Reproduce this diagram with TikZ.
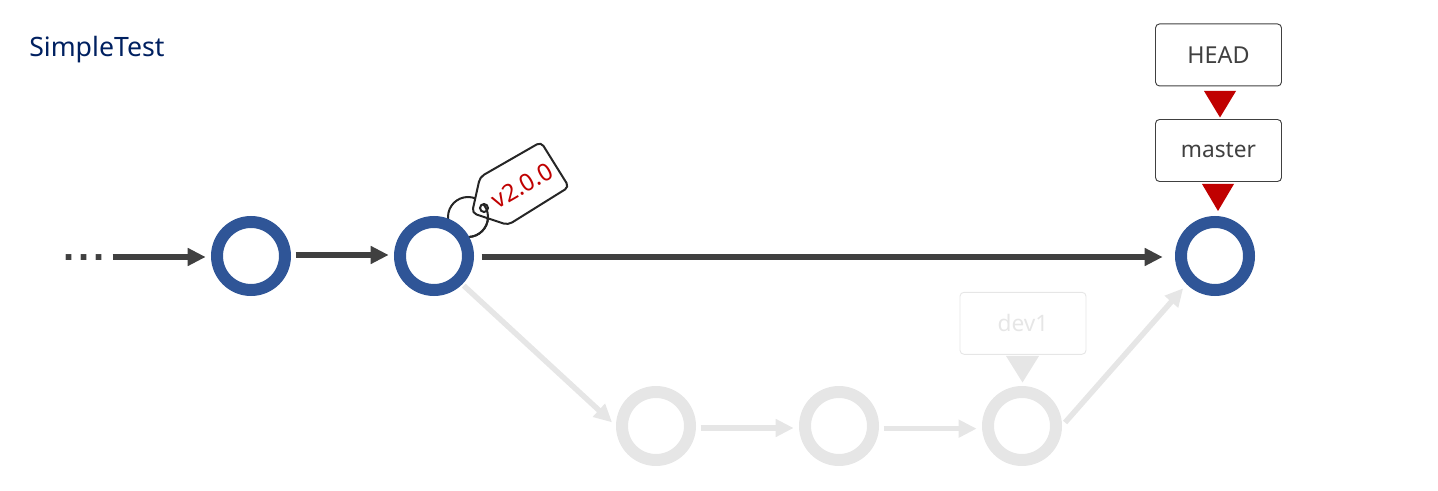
\documentclass[tikz,border=0pt]{standalone}
\usepackage{fontspec}
\setmainfont{Noto Sans}
\newfontfamily\dotsfont[LetterSpace=9]{Liberation Sans}
\usepackage{xcolor}
\usetikzlibrary{arrows.meta, positioning}
\definecolor{commitblue}{HTML}{2F5597}
\definecolor{darkline}{HTML}{404040}
\definecolor{fadeline}{HTML}{E6E6E6}
\definecolor{headred}{HTML}{C00000}
\definecolor{titlenavy}{HTML}{002060}

\begin{document}
\begin{tikzpicture}[
    x=0.75pt, y=-0.75pt,
    node distance=77.25pt,
    commit/.style={draw=commitblue, circle, line width=9pt, minimum size=51pt, inner sep=0pt},
    fadecommit/.style={commit, draw=fadeline},
    refbox/.style={draw=darkline, rectangle, rounded corners=3pt, line width=0.7pt, minimum width=94.5pt, minimum height=46.5pt, inner sep=0pt, text=darkline, font=\fontsize{17}{20}\selectfont},
    fadebox/.style={refbox, draw=fadeline, text=fadeline},
    arrow/.style={draw=darkline, line width=4.5pt, -{Triangle[width=12.75pt, length=13.5pt]}, shorten <=3.5pt, shorten >=4pt},
    fadearrow/.style={arrow, draw=fadeline, line width=4.1pt},
    pointer/.style={fill=headred},
    tagline/.style={draw=black!85, line width=1.5pt}
]
\useasboundingbox (0,0) rectangle (1438,491);

\node[anchor=west, inner sep=0pt, text=titlenavy, font=\fontsize{20}{24}\selectfont] (title) at (29,50) {SimpleTest};

% tag on the second commit
\draw[tagline] (468,217) circle [radius=15pt];
\draw[tagline, fill=white, rounded corners=3.5pt] (480,177) -- (541,142) -- (569,187) -- (508,225) -- (472,213) -- cycle;
\draw[tagline] (484,208) circle [radius=3pt];
\begin{scope}
\clip (470,206) rectangle (492,240);
\draw[tagline] (468,217) circle [radius=15pt];
\end{scope}
\node[rotate=30, inner sep=0pt, text=headred, font=\fontsize{18}{20}\selectfont] (tag) at (522,186) {v2.0.0};

% commits
\node[commit] (c1) at (251,256) {};
\node[commit, right=of c1] (c2) {};
\node[commit, right=525.75pt of c2] (c3) {};
\node[fadecommit] (d1) at (656,426) {};
\node[fadecommit, right=of d1] (d2) {};
\node[fadecommit, right=of d2] (d3) {};

% refs
\node[refbox] (master) at (1218.5,150.5) {master};
\node[refbox, above=24.45pt of master, font=\fontsize{17.5}{20}\selectfont] (head) {HEAD};
\node[fadebox] (dev1) at (1023,323.3) {dev1};

\fill[pointer] (1204,91) -- (1236,91) -- (1220,117.5) -- cycle;
\fill[pointer] (1202,184) -- (1234,184) -- (1218,211) -- cycle;
\fill[fadeline] (1006,356) -- (1039,356) -- (1022.5,382.5) -- cycle;

\node[anchor=base, inner sep=0pt, text=darkline, font=\dotsfont\bfseries\fontsize{30}{30}\selectfont] (dots) at (84,261) {...};
\coordinate (dotsend) at (104,256);

\draw[arrow, shorten <=6.5pt] ([yshift=-0.75pt]dotsend) -- ([yshift=-0.75pt]c1.west);
\draw[arrow] ([yshift=0.75pt]c1.east) -- ([yshift=0.75pt]c2.west);
\draw[arrow, shorten <=5.75pt, shorten >=9.25pt] ([yshift=-0.75pt]c2.east) -- ([yshift=-0.75pt]c3.west);
\draw[fadearrow, shorten <=1.5pt] (c2.south east) -- (d1.west);
\draw[fadearrow] ([yshift=-1.5pt]d1.east) -- ([yshift=-1.5pt]d2.west);
\draw[fadearrow] ([yshift=-2pt]d2.east) -- ([yshift=-2pt]d3.west);
\draw[fadearrow] (d3.east) -- (c3.south west);

\end{tikzpicture}
\end{document}
